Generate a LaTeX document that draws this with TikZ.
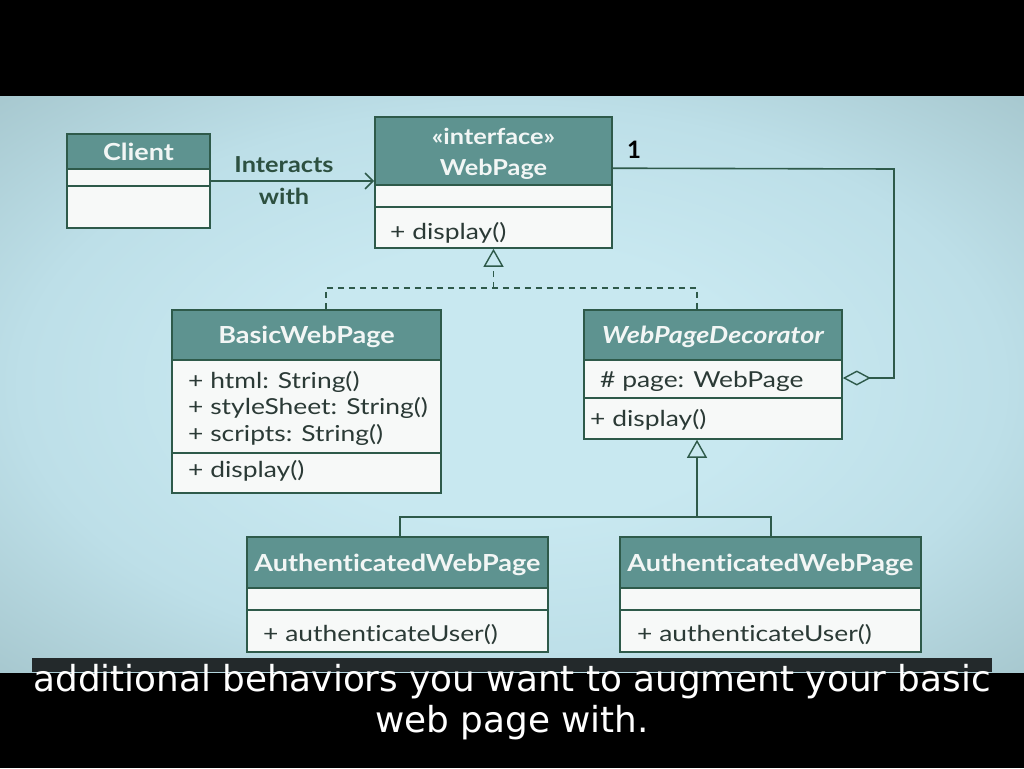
\documentclass[tikz,border=0pt]{standalone}
\usepackage{fontspec}
\setmainfont{Lato}
\newfontfamily\hdrfont[FakeStretch=1.15, Ligatures=NoCommon]{Lato}
\newfontfamily\bodyfont[FakeStretch=1.2, Ligatures=NoCommon]{Lato}
\newfontfamily\subfont{DejaVu Sans}
\usetikzlibrary{arrows.meta}
\definecolor{hdr}{HTML}{5E9390}
\definecolor{bord}{HTML}{2E5A4A}
\definecolor{boxfill}{HTML}{F7F9F8}
\definecolor{hdrtext}{HTML}{F2F6F5}
\definecolor{bodytext}{HTML}{2B3A36}
\definecolor{lbl}{HTML}{2D5040}
\definecolor{bginner}{HTML}{C8E8F0}
\definecolor{bgmid}{HTML}{BDDFE8}
\definecolor{bgouter}{HTML}{A6C7CE}
\definecolor{subbg}{HTML}{23292B}
\pgfdeclareradialshading{bgshade}{\pgfpoint{0bp}{0bp}}{color(0bp)=(bginner); color(12bp)=(bginner); color(24bp)=(bgmid); color(36bp)=(bgouter); color(50bp)=(bgouter)}
\tikzset{
  conn/.style={draw=bord, line width=1.6pt},
  dashconn/.style={conn, dash pattern=on 6pt off 5pt},
  hdrtxt/.style={text=hdrtext, font=\hdrfont\bfseries\fontsize{23.5}{31}\selectfont, align=center, inner sep=0pt},
  bodytxt/.style={text=bodytext, font=\bodyfont\fontsize{22}{26.5}\selectfont, anchor=west, align=left, inner sep=0pt},
  lbltxt/.style={text=lbl, font=\hdrfont\bfseries\fontsize{22}{32}\selectfont, align=center, inner sep=0pt},
}
% name, x1, y1, x2, y2, header bottom, divider
\newcommand\umlbox[7]{%
  \node[fill=boxfill, draw=bord, line width=1.6pt, inner sep=0pt,
        minimum width={(#4-#2)*1pt}, minimum height={(#5-#3)*1pt}]
        (#1) at ({(#2+#4)/2},{(#3+#5)/2}) {};
  \fill[hdr] (#2,#3) rectangle (#4,#6);
  \draw[bord, line width=1.6pt] (#2,#6) -- (#4,#6);
  \draw[bord, line width=1.6pt] (#2,#7) -- (#4,#7);
  \draw[bord, line width=1.6pt] (#2,#3) rectangle (#4,#5);
}
\begin{document}
\begin{tikzpicture}[x=1pt,y=-1pt]
\useasboundingbox (0,0) rectangle (1024,768);
\fill[black] (0,0) rectangle (1024,768);
\shade[shading=bgshade] (0,96) rectangle (1024,672);

% classes
\umlbox{client}{67}{134}{210}{228}{169}{186}
\umlbox{webpage}{375}{117}{612}{248}{185}{207}
\umlbox{basic}{172}{310}{441}{493}{360}{453}
\umlbox{decor}{584}{310}{842}{439}{360}{398}
\umlbox{authA}{247}{537}{548}{652}{588}{610}
\umlbox{authB}{620}{537}{921}{652}{588}{610}

% header texts
\node[hdrtxt] (tclient) at (138.5,152) {Client};
\node[hdrtxt, font=\hdrfont\bfseries\fontsize{22}{31}\selectfont] (twebpage) at (493.5,154) {«interface»\\WebPage};
\node[hdrtxt] (tbasic) at (306.5,337) {BasicWebPage};
\node[hdrtxt] (tdecor) at (713,337) {\itshape WebPageDecorator};
\node[hdrtxt] (tauthA) at (397.5,565) {AuthenticatedWebPage};
\node[hdrtxt] (tauthB) at (770.5,565) {AuthenticatedWebPage};

% body texts
\node[bodytxt] (mweb) at (390,233) {+ display()};
\node[bodytxt] (abasic) at (188,408) {+ html: String()\\+ styleSheet: String()\\+ scripts: String()};
\node[bodytxt] (mbasic) at (188,471) {+ display()};
\node[bodytxt] (adecor) at (600,381) {\# page: WebPage};
\node[bodytxt] (mdecor) at (590,420) {+ display()};
\node[bodytxt] (mauthA) at (263,635) {+ authenticateUser()};
\node[bodytxt] (mauthB) at (637,635) {+ authenticateUser()};

% Client -> WebPage
\draw[conn, -{Straight Barb[length=8pt, width=16pt, line width=1.6pt]}] (client.east) -- (webpage.west |- client.east);
\node[lbltxt] (linter) at (284,181) {Interacts\\with};

% association (aggregation)
\coordinate (aggc) at (894,169);
\draw[conn, -{Diamond[open, length=28pt, width=15pt, line width=1.4pt]}]
  ([yshift=-52pt]webpage.north east) -- (aggc) |- (decor.east |- 0,378);
\node[text=black, font=\bfseries\fontsize{24}{28}\selectfont, inner sep=0pt] (mult) at (634,150) {1};

% realization
\coordinate (rj) at (493.5,288);
\draw[dashconn] (basic.north -| 326,0) |- (rj) -| (decor.north -| 697,0);
\draw[dashconn, -{Triangle[open, length=18pt, width=20pt, line width=1.4pt]}] (rj) -- (webpage.south);

% generalization
\coordinate (gj) at (697,517);
\draw[conn] (authA.north -| 400,0) |- (gj) -| (authB.north -| 771,0);
\draw[conn, -{Triangle[open, length=18pt, width=20pt, line width=1.4pt]}] (gj) -- (decor.south -| 697,0);

% subtitle
\fill[subbg] (32,658) rectangle (992,672);
\node[text=white, font=\subfont\fontsize{35.8}{41}\selectfont, align=center, inner sep=0pt] (sub) at (512,702) {additional behaviors you want to augment your basic\\web page with.};
\end{tikzpicture}
\end{document}
